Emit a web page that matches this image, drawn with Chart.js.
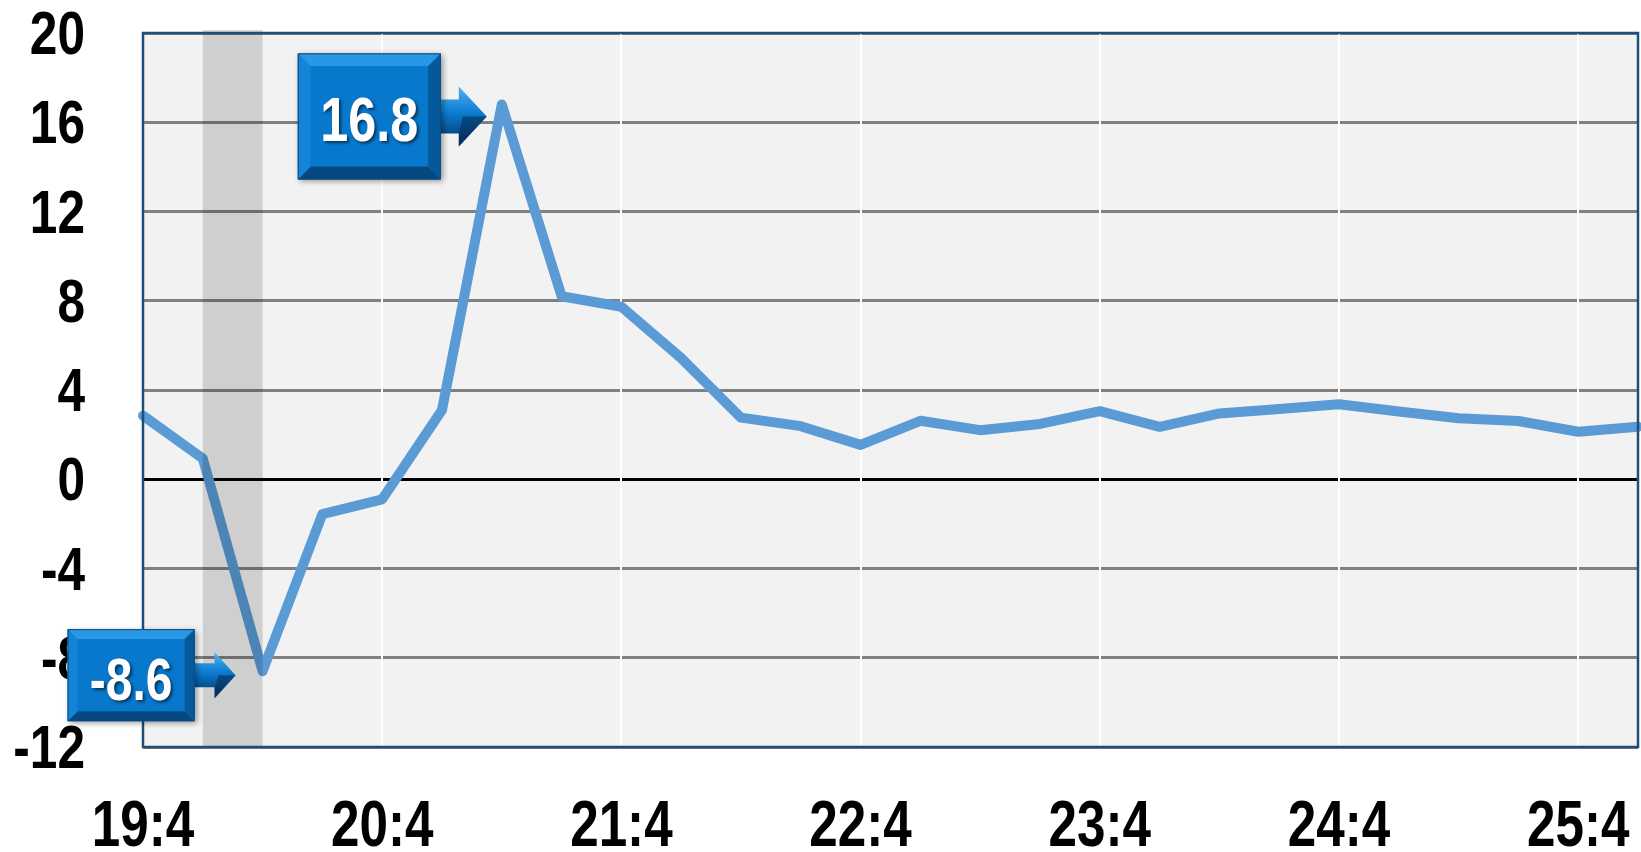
<!DOCTYPE html>
<html>
<head>
<meta charset="utf-8">
<script src="https://cdn.jsdelivr.net/npm/chart.js@4.4.1/dist/chart.umd.min.js"></script>
<style>
  html, body { margin: 0; padding: 0; background: #ffffff; }
  #wrap { width: 1641px; height: 852px; }
</style>
</head>
<body>
<div id="wrap"><canvas id="growthChart" width="1641" height="852"></canvas></div>
<script>
// === Data ===
const quarters = ['19:4', '20:1', '20:2', '20:3', '20:4', '21:1', '21:2', '21:3', '21:4',
    '22:1', '22:2', '22:3', '22:4', '23:1', '23:2', '23:3', '23:4',
    '24:1', '24:2', '24:3', '24:4', '25:1', '25:2', '25:3', '25:4', '26:1'];
const growth = [2.85, 0.93, -8.6, -1.56, -0.9, 3.1, 16.8, 8.2, 7.73,
    5.43, 2.76, 2.38, 1.54, 2.62, 2.2, 2.48, 3.05,
    2.35, 2.95, 3.15, 3.36, 3.04, 2.73, 2.61, 2.13, 2.35];
const yTicks = [-12, -8, -4, 0, 4, 8, 12, 16, 20];
const recession = ['20:1', '20:2'];
const labelled = ['20:2', '21:2'];

// pas de police étroite installée : Liberation Sans gras compressé à l'horizontale
const FONT = '"Liberation Sans", Arial, sans-serif';
const SQUEEZE = 0.8;
const LINE_WIDTH = 10;

function squeezedText(ctx, text, x, yMid, size, align, color) {
    ctx.save();
    ctx.font = 'bold ' + size + 'px ' + FONT;
    ctx.textAlign = align;
    ctx.textBaseline = 'alphabetic';
    ctx.fillStyle = color;
    ctx.translate(x, yMid + 0.358 * size);
    ctx.scale(SQUEEZE, 1);
    ctx.fillText(text, 0, 0);
    ctx.restore();
}

// === Fond de la zone du graphique ===
const plotBackground = {
    id: 'plotBackground',
    beforeDraw(chart) {
        const { ctx, chartArea: a } = chart;
        ctx.save();
        ctx.fillStyle = '#f2f2f2';
        ctx.fillRect(a.left, a.top, a.right - a.left, a.bottom - a.top);
        ctx.restore();
    }
};

// === Bande de récession + cadre + étiquettes des axes ===
const bandAndFrame = {
    id: 'bandAndFrame',
    afterDatasetsDraw(chart) {
        const { ctx, chartArea: a, scales } = chart;
        const x0 = scales.x.getPixelForValue(quarters.indexOf(recession[0]));
        const x1 = scales.x.getPixelForValue(quarters.indexOf(recession[1]));
        ctx.save();
        ctx.fillStyle = 'rgba(0, 0, 0, 0.145)';
        ctx.fillRect(x0, a.top - 3, x1 - x0, a.bottom - a.top + 3);
        ctx.strokeStyle = '#1f4e79';
        ctx.lineWidth = 2.5;
        ctx.strokeRect(a.left, a.top, a.right - a.left, a.bottom - a.top);
        ctx.restore();

        yTicks.forEach(v => {
            squeezedText(ctx, String(v), a.left - 58, scales.y.getPixelForValue(v) - 1, 62, 'right', '#000000');
        });
        quarters.forEach((q, i) => {
            if (i % 4 !== 0) return;
            squeezedText(ctx, q, scales.x.getPixelForValue(i), a.bottom + 76, 64, 'center', '#000000');
        });
    }
};

// === Bulles de valeur ===
const calloutStyles = {
    '21:2': { dx: -15, dy: 12, w: 143, h: 126, gap: 46, head: 28, headHalf: 30, shaftHalf: 17, bevel: 13, size: 63, textDy: 2.5 },
    '20:2': { dx: -27, dy: 4, w: 127, h: 92, gap: 41, head: 21, headHalf: 23, shaftHalf: 12, bevel: 10, size: 60, textDy: 3 }
};

function drawCallout(ctx, tipX, tipY, s, text) {
    const x1 = tipX - s.gap, x0 = x1 - s.w;
    const y0 = tipY - s.h / 2, y1 = y0 + s.h;
    const b = s.bevel;

    // flèche
    const hx = tipX - s.head;
    ctx.save();
    const g = ctx.createLinearGradient(0, tipY - s.headHalf, 0, tipY + s.headHalf);
    g.addColorStop(0, '#4fb2f3');
    g.addColorStop(0.45, '#0b7bd0');
    g.addColorStop(1, '#062f58');
    ctx.fillStyle = g;
    ctx.beginPath();
    ctx.moveTo(x1 - 6, tipY - s.shaftHalf);
    ctx.lineTo(hx, tipY - s.shaftHalf);
    ctx.lineTo(hx, tipY - s.headHalf);
    ctx.lineTo(tipX, tipY);
    ctx.lineTo(hx, tipY + s.headHalf);
    ctx.lineTo(hx, tipY + s.shaftHalf);
    ctx.lineTo(x1 - 6, tipY + s.shaftHalf);
    ctx.closePath();
    ctx.fill();
    ctx.fillStyle = 'rgba(4, 40, 80, 0.55)';
    ctx.beginPath();
    ctx.moveTo(hx + 4, tipY);
    ctx.lineTo(tipX, tipY);
    ctx.lineTo(hx, tipY + s.headHalf);
    ctx.lineTo(hx, tipY + s.shaftHalf);
    ctx.closePath();
    ctx.fill();
    ctx.restore();

    // boîte biseautée
    ctx.save();
    ctx.shadowColor = 'rgba(0, 0, 0, 0.4)';
    ctx.shadowBlur = 6;
    ctx.shadowOffsetX = 2;
    ctx.shadowOffsetY = 2;
    ctx.fillStyle = '#0876c9';
    ctx.fillRect(x0, y0, s.w, s.h);
    ctx.restore();

    const quad = (pts, fill) => {
        ctx.beginPath();
        ctx.moveTo(pts[0][0], pts[0][1]);
        for (let i = 1; i < pts.length; i++) ctx.lineTo(pts[i][0], pts[i][1]);
        ctx.closePath();
        ctx.fillStyle = fill;
        ctx.fill();
    };
    ctx.save();
    quad([[x0, y0], [x1, y0], [x1 - b, y0 + b], [x0 + b, y0 + b]], '#2a97e4');
    quad([[x0, y1], [x1, y1], [x1 - b, y1 - b], [x0 + b, y1 - b]], '#05477f');
    quad([[x0, y0], [x0 + b, y0 + b], [x0 + b, y1 - b], [x0, y1]], '#1485d6');
    quad([[x1, y0], [x1 - b, y0 + b], [x1 - b, y1 - b], [x1, y1]], '#06589c');
    ctx.fillStyle = '#0878cc';
    ctx.fillRect(x0 + b, y0 + b, s.w - 2 * b, s.h - 2 * b);
    ctx.strokeStyle = '#0b4a80';
    ctx.lineWidth = 1;
    ctx.strokeRect(x0 + 0.5, y0 + 0.5, s.w - 1, s.h - 1);
    ctx.restore();

    ctx.save();
    ctx.shadowColor = 'rgba(0, 0, 0, 0.55)';
    ctx.shadowBlur = 3;
    ctx.shadowOffsetX = 2;
    ctx.shadowOffsetY = 2;
    squeezedText(ctx, text, (x0 + x1) / 2, (y0 + y1) / 2 + s.textDy, s.size, 'center', '#ffffff');
    ctx.restore();
}

const callouts = {
    id: 'callouts',
    afterDraw(chart) {
        const { ctx, scales } = chart;
        labelled.forEach(q => {
            const i = quarters.indexOf(q);
            const s = calloutStyles[q];
            const px = scales.x.getPixelForValue(i);
            const py = scales.y.getPixelForValue(growth[i]);
            drawCallout(ctx, px + s.dx, py + s.dy, s, growth[i].toFixed(1));
        });
    }
};

// === Graphique ===
const ctx = document.getElementById('growthChart').getContext('2d');
new Chart(ctx, {
    type: 'line',
    data: {
        labels: quarters,
        datasets: [{
            data: growth,
            borderColor: '#5b9bd5',
            borderWidth: LINE_WIDTH,
            pointRadius: 0,
            tension: 0,
            borderJoinStyle: 'round',
            borderCapStyle: 'round',
            fill: false
        }]
    },
    options: {
        responsive: false,
        animation: false,
        elements: { line: { borderWidth: LINE_WIDTH } },
        layout: { padding: { top: 33, right: 3, left: 0, bottom: 0 } },
        plugins: {
            legend: { display: false },
            tooltip: { enabled: false }
        },
        scales: {
            x: {
                type: 'category',
                offset: false,
                afterFit: s => { s.height = 105; },
                grid: {
                    z: -1,
                    drawTicks: false,
                    color: c => (c.index % 4 === 0 && c.index > 0) ? '#ffffff' : 'rgba(0,0,0,0)',
                    lineWidth: 2
                },
                border: { display: false },
                ticks: { display: false, autoSkip: false }
            },
            y: {
                min: -12,
                max: 20,
                afterFit: s => { s.width = 143; },
                afterBuildTicks: s => { s.ticks = yTicks.map(v => ({ value: v })); },
                grid: {
                    z: -2,
                    drawTicks: false,
                    color: c => (c.tick && c.tick.value === 0) ? '#000000' : '#808080',
                    lineWidth: 3
                },
                border: { display: false },
                ticks: { display: false }
            }
        }
    },
    plugins: [plotBackground, bandAndFrame, callouts]
});
</script>
</body>
</html>
